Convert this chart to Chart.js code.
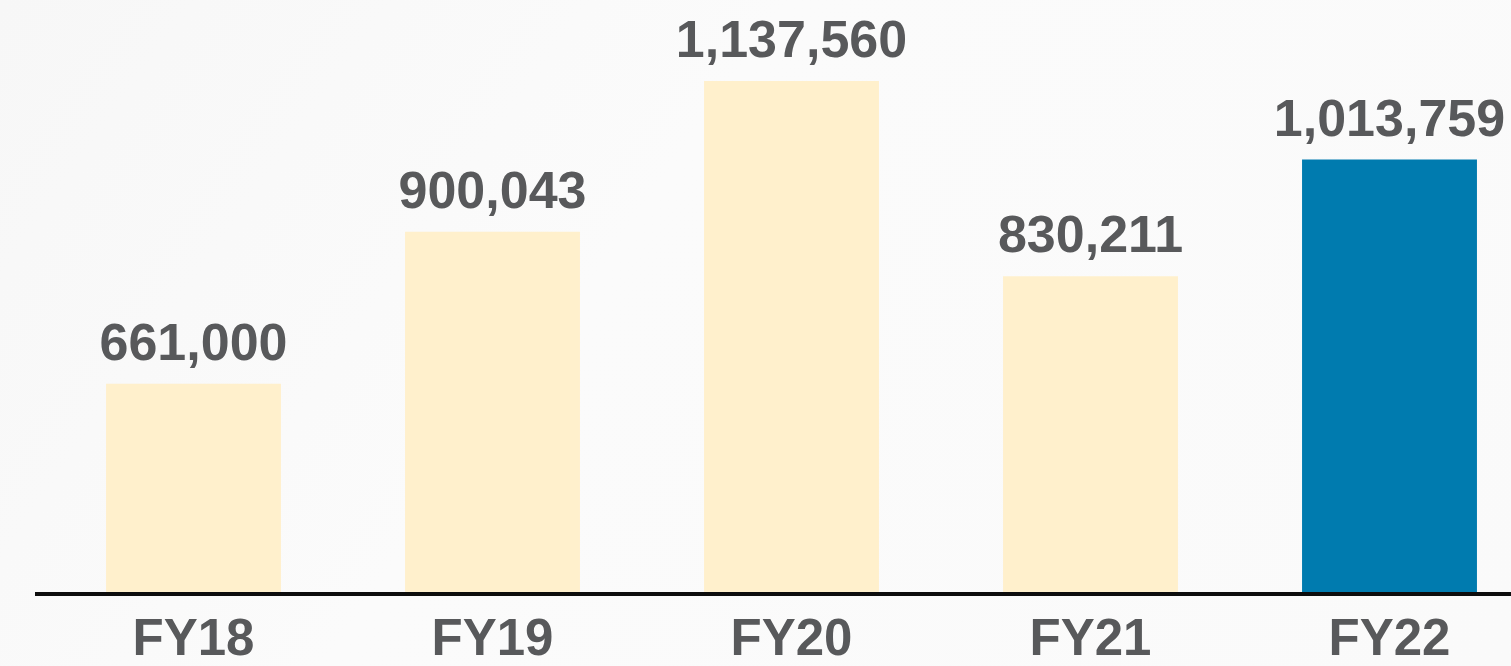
<!DOCTYPE html>
<html>
<head>
<meta charset="utf-8">
<script src="https://cdn.jsdelivr.net/npm/chart.js@4/dist/chart.umd.min.js"></script>
<style>
  html, body { margin: 0; padding: 0; width: 1511px; height: 666px; overflow: hidden;
    background: linear-gradient(125deg, #f7f7f7 0%, #f9f9f9 20%, #fbfbfb 40%, #fafafa 100%); }
  #wrap { position: absolute; left: 0; top: 0; width: 1550px; height: 666px; }
</style>
</head>
<body>
<div id="wrap"><canvas id="c" width="1550" height="666"></canvas></div>
<script>
const categories = ['FY18', 'FY19', 'FY20', 'FY21', 'FY22'];
const revenue = [661000, 900043, 1137560, 830211, 1013759];
const barColors = ['#FFF0CC', '#FFF0CC', '#FFF0CC', '#FFF0CC', '#007BAF'];

const TEXT = '#58595B';
const FAMILY = '"Liberation Sans", Arial, Helvetica, sans-serif';
const FONT = 'bold 52px ' + FAMILY;

const valueLabels = {
  id: 'valueLabels',
  afterDatasetsDraw(chart) {
    const ctx = chart.ctx;
    const meta = chart.getDatasetMeta(0);
    ctx.save();
    ctx.font = FONT;
    ctx.fillStyle = TEXT;
    ctx.textAlign = 'center';
    ctx.textBaseline = 'alphabetic';
    meta.data.forEach((bar, i) => {
      ctx.fillText(revenue[i].toLocaleString('en-US'), bar.x, bar.y - 24);
    });
    ctx.restore();
  }
};

const baseline = {
  id: 'baseline',
  afterDatasetsDraw(chart) {
    const ctx = chart.ctx;
    const y = chart.chartArea.bottom;
    ctx.save();
    ctx.strokeStyle = '#0d0d0d';
    ctx.lineWidth = 4;
    ctx.beginPath();
    ctx.moveTo(chart.chartArea.left - 9, y);
    ctx.lineTo(chart.width, y);
    ctx.stroke();
    ctx.restore();
  }
};

new Chart(document.getElementById('c'), {
  type: 'bar',
  data: {
    labels: categories,
    datasets: [{
      data: revenue,
      backgroundColor: barColors,
      borderWidth: 0,
      barPercentage: 0.585,
      categoryPercentage: 1.0
    }]
  },
  options: {
    responsive: false,
    animation: false,
    layout: { padding: { left: 44, right: 11, top: 0, bottom: 0 } },
    plugins: { legend: { display: false }, tooltip: { enabled: false } },
    scales: {
      x: {
        grid: { display: false, drawTicks: false },
        border: { display: false },
        afterFit(scale) { scale.height = 72; },
        ticks: {
          color: TEXT,
          padding: 21,
          font: { family: FAMILY, size: 51, weight: 'bold', lineHeight: 1.0 }
        }
      },
      y: {
        display: false,
        min: 330000,
        max: 1265000
      }
    }
  },
  plugins: [valueLabels, baseline]
});
</script>
</body>
</html>
